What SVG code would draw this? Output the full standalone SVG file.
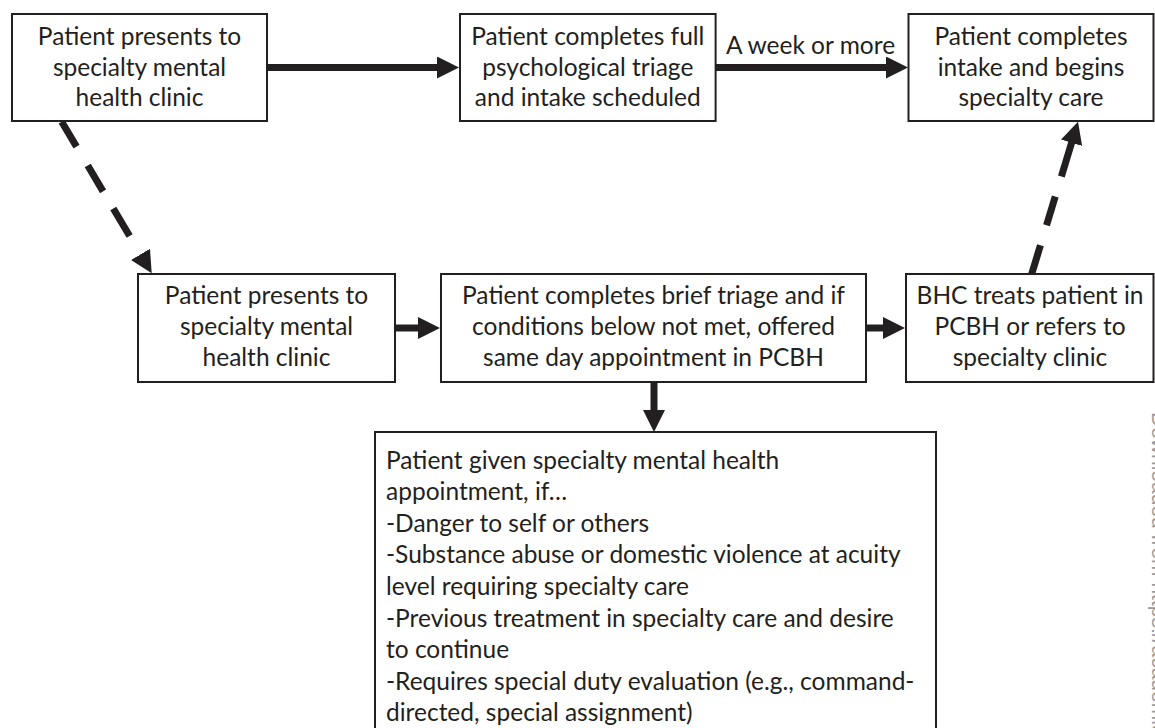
<svg xmlns="http://www.w3.org/2000/svg" width="1155" height="728" viewBox="0 0 1155 728">
<defs>
<marker id="ah" markerUnits="userSpaceOnUse" viewBox="0 0 22 22" refX="1" refY="11" markerWidth="22" markerHeight="22" orient="auto"><path d="M0,0 L22,11 L0,22 z" fill="#231f20"/></marker>
<style>
.box{fill:#fff;stroke:#231f20;stroke-width:2}
.t{font-family:Lato,"Liberation Sans",sans-serif;font-size:24.5px;fill:#231f20;text-anchor:middle}
.l{text-anchor:start}
.c{fill:none;stroke:#231f20;stroke-width:7;marker-end:url(#ah)}
.wm{font-family:"Liberation Sans",sans-serif;font-size:21px;fill:#9a9a9a}
</style>
</defs>
<rect width="1155" height="728" fill="#fff"/>
<g id="connectors">
<path class="c" d="M267,67.5 H438"/>
<path class="c" d="M715.6,67.5 H887"/>
<path class="c" d="M395,328 H419"/>
<path class="c" d="M866,328 H884"/>
<path class="c" d="M654,382 V411"/>
<path class="c" d="M61.7,121.7 L141,255.2" stroke-dasharray="29 22 30 20 32 30"/>
<path class="c" d="M1031.7,274 L1071.9,141.8" stroke-dasharray="30 21 30 21 40"/>
<text class="t" x="810.5" y="54">A week or more</text>
</g>
<g id="n1">
<rect class="box" x="12" y="14" width="255" height="107"/>
<text class="t" x="139.5" y="45">Patient presents to</text>
<text class="t" x="139.5" y="75.5">specialty mental</text>
<text class="t" x="139.5" y="106">health clinic</text>
</g>
<g id="n2">
<rect class="box" x="460" y="14" width="255.6" height="107"/>
<text class="t" x="587.8" y="45">Patient completes full</text>
<text class="t" x="587.8" y="75.5">psychological triage</text>
<text class="t" x="587.8" y="106">and intake scheduled</text>
</g>
<g id="n3">
<rect class="box" x="908.5" y="14" width="245" height="107"/>
<text class="t" x="1031" y="45">Patient completes</text>
<text class="t" x="1031" y="75.5">intake and begins</text>
<text class="t" x="1031" y="106">specialty care</text>
</g>
<g id="n4">
<rect class="box" x="138" y="274" width="257" height="108"/>
<text class="t" x="266.5" y="304">Patient presents to</text>
<text class="t" x="266.5" y="335">specialty mental</text>
<text class="t" x="266.5" y="366">health clinic</text>
</g>
<g id="n5">
<rect class="box" x="441" y="274" width="425" height="108"/>
<text class="t" x="653.5" y="304">Patient completes brief triage and if</text>
<text class="t" x="653.5" y="335">conditions below not met, offered</text>
<text class="t" x="653.5" y="366">same day appointment in PCBH</text>
</g>
<g id="n6">
<rect class="box" x="906" y="274" width="247.5" height="108"/>
<text class="t" x="1030" y="304">BHC treats patient in</text>
<text class="t" x="1030" y="335">PCBH or refers to</text>
<text class="t" x="1030" y="366">specialty clinic</text>
</g>
<g id="n7">
<rect class="box" x="375" y="432" width="561" height="320"/>
<text class="t l" x="386" y="468.5">Patient given specialty mental health</text>
<text class="t l" x="386" y="500.1">appointment, if…</text>
<text class="t l" x="386" y="531.7">-Danger to self or others</text>
<text class="t l" x="386" y="563.3">-Substance abuse or domestic violence at acuity</text>
<text class="t l" x="386" y="594.9">level requiring specialty care</text>
<text class="t l" x="386" y="626.5">-Previous treatment in specialty care and desire</text>
<text class="t l" x="386" y="658.1">to continue</text>
<text class="t l" x="386" y="689.7">-Requires special duty evaluation (e.g., command-</text>
<text class="t l" x="386" y="721.3">directed, special assignment)</text>
</g>
<text class="wm" transform="translate(1152,412) rotate(90)">Downloaded from https://academic.oup.com/milmed/article</text>
</svg>
